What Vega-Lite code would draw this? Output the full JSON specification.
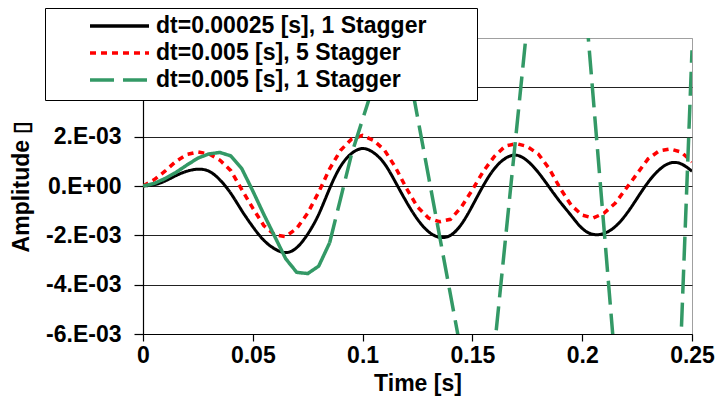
{
  "$schema": "https://vega.github.io/schema/vega-lite/v6.json",
  "width": 549,
  "height": 296,
  "autosize": {"type": "none"},
  "padding": {"left": 143, "top": 38, "right": 27, "bottom": 80},
  "background": "white",
  "config": {
    "view": {"stroke": "#a0a0a0", "strokeWidth": 1},
    "font": "Liberation Sans",
    "axis": {"labelFont": "Liberation Sans", "titleFont": "Liberation Sans", "labelFontSize": 23, "titleFontSize": 23, "labelFontWeight": "bold", "titleFontWeight": "bold", "labelColor": "black", "titleColor": "black", "domainColor": "black", "tickColor": "black", "domainWidth": 1.2, "tickWidth": 1.2}
  },
  "data": {"values": [
    {"series": "dt=0.00025 [s], 1 Stagger", "t": 0, "a": 0},
    {"series": "dt=0.00025 [s], 1 Stagger", "t": 0.005, "a": 0.00005},
    {"series": "dt=0.00025 [s], 1 Stagger", "t": 0.01, "a": 0.0002},
    {"series": "dt=0.00025 [s], 1 Stagger", "t": 0.015, "a": 0.00042},
    {"series": "dt=0.00025 [s], 1 Stagger", "t": 0.02, "a": 0.0006},
    {"series": "dt=0.00025 [s], 1 Stagger", "t": 0.025, "a": 0.00068},
    {"series": "dt=0.00025 [s], 1 Stagger", "t": 0.03, "a": 0.0006},
    {"series": "dt=0.00025 [s], 1 Stagger", "t": 0.035, "a": 0.00025},
    {"series": "dt=0.00025 [s], 1 Stagger", "t": 0.04, "a": -0.0003},
    {"series": "dt=0.00025 [s], 1 Stagger", "t": 0.045, "a": -0.001},
    {"series": "dt=0.00025 [s], 1 Stagger", "t": 0.05, "a": -0.00165},
    {"series": "dt=0.00025 [s], 1 Stagger", "t": 0.055, "a": -0.0022},
    {"series": "dt=0.00025 [s], 1 Stagger", "t": 0.06, "a": -0.00255},
    {"series": "dt=0.00025 [s], 1 Stagger", "t": 0.065, "a": -0.0027},
    {"series": "dt=0.00025 [s], 1 Stagger", "t": 0.07, "a": -0.0025},
    {"series": "dt=0.00025 [s], 1 Stagger", "t": 0.075, "a": -0.00195},
    {"series": "dt=0.00025 [s], 1 Stagger", "t": 0.08, "a": -0.00115},
    {"series": "dt=0.00025 [s], 1 Stagger", "t": 0.085, "a": -0.0001},
    {"series": "dt=0.00025 [s], 1 Stagger", "t": 0.09, "a": 0.0008},
    {"series": "dt=0.00025 [s], 1 Stagger", "t": 0.095, "a": 0.00132},
    {"series": "dt=0.00025 [s], 1 Stagger", "t": 0.1, "a": 0.00152},
    {"series": "dt=0.00025 [s], 1 Stagger", "t": 0.105, "a": 0.00135},
    {"series": "dt=0.00025 [s], 1 Stagger", "t": 0.11, "a": 0.0009},
    {"series": "dt=0.00025 [s], 1 Stagger", "t": 0.115, "a": 0.00015},
    {"series": "dt=0.00025 [s], 1 Stagger", "t": 0.12, "a": -0.00065},
    {"series": "dt=0.00025 [s], 1 Stagger", "t": 0.125, "a": -0.00135},
    {"series": "dt=0.00025 [s], 1 Stagger", "t": 0.13, "a": -0.00185},
    {"series": "dt=0.00025 [s], 1 Stagger", "t": 0.135, "a": -0.00208},
    {"series": "dt=0.00025 [s], 1 Stagger", "t": 0.14, "a": -0.002},
    {"series": "dt=0.00025 [s], 1 Stagger", "t": 0.145, "a": -0.00155},
    {"series": "dt=0.00025 [s], 1 Stagger", "t": 0.15, "a": -0.0008},
    {"series": "dt=0.00025 [s], 1 Stagger", "t": 0.155, "a": 0.00002},
    {"series": "dt=0.00025 [s], 1 Stagger", "t": 0.16, "a": 0.0007},
    {"series": "dt=0.00025 [s], 1 Stagger", "t": 0.165, "a": 0.00112},
    {"series": "dt=0.00025 [s], 1 Stagger", "t": 0.17, "a": 0.00125},
    {"series": "dt=0.00025 [s], 1 Stagger", "t": 0.175, "a": 0.00102},
    {"series": "dt=0.00025 [s], 1 Stagger", "t": 0.18, "a": 0.00055},
    {"series": "dt=0.00025 [s], 1 Stagger", "t": 0.185, "a": -0.00005},
    {"series": "dt=0.00025 [s], 1 Stagger", "t": 0.19, "a": -0.00065},
    {"series": "dt=0.00025 [s], 1 Stagger", "t": 0.195, "a": -0.0012},
    {"series": "dt=0.00025 [s], 1 Stagger", "t": 0.2, "a": -0.00172},
    {"series": "dt=0.00025 [s], 1 Stagger", "t": 0.205, "a": -0.00196},
    {"series": "dt=0.00025 [s], 1 Stagger", "t": 0.21, "a": -0.00192},
    {"series": "dt=0.00025 [s], 1 Stagger", "t": 0.215, "a": -0.00165},
    {"series": "dt=0.00025 [s], 1 Stagger", "t": 0.22, "a": -0.00115},
    {"series": "dt=0.00025 [s], 1 Stagger", "t": 0.225, "a": -0.0005},
    {"series": "dt=0.00025 [s], 1 Stagger", "t": 0.23, "a": 0.00015},
    {"series": "dt=0.00025 [s], 1 Stagger", "t": 0.235, "a": 0.00065},
    {"series": "dt=0.00025 [s], 1 Stagger", "t": 0.24, "a": 0.00093},
    {"series": "dt=0.00025 [s], 1 Stagger", "t": 0.245, "a": 0.0009},
    {"series": "dt=0.00025 [s], 1 Stagger", "t": 0.25, "a": 0.0006},

    {"series": "dt=0.005 [s], 5 Stagger", "t": 0, "a": 0},
    {"series": "dt=0.005 [s], 5 Stagger", "t": 0.005, "a": 0.00025},
    {"series": "dt=0.005 [s], 5 Stagger", "t": 0.01, "a": 0.0006},
    {"series": "dt=0.005 [s], 5 Stagger", "t": 0.015, "a": 0.001},
    {"series": "dt=0.005 [s], 5 Stagger", "t": 0.02, "a": 0.00128},
    {"series": "dt=0.005 [s], 5 Stagger", "t": 0.025, "a": 0.00138},
    {"series": "dt=0.005 [s], 5 Stagger", "t": 0.03, "a": 0.0013},
    {"series": "dt=0.005 [s], 5 Stagger", "t": 0.035, "a": 0.00105},
    {"series": "dt=0.005 [s], 5 Stagger", "t": 0.04, "a": 0.00062},
    {"series": "dt=0.005 [s], 5 Stagger", "t": 0.045, "a": -0.00015},
    {"series": "dt=0.005 [s], 5 Stagger", "t": 0.05, "a": -0.0009},
    {"series": "dt=0.005 [s], 5 Stagger", "t": 0.055, "a": -0.0016},
    {"series": "dt=0.005 [s], 5 Stagger", "t": 0.06, "a": -0.00198},
    {"series": "dt=0.005 [s], 5 Stagger", "t": 0.065, "a": -0.00205},
    {"series": "dt=0.005 [s], 5 Stagger", "t": 0.07, "a": -0.00172},
    {"series": "dt=0.005 [s], 5 Stagger", "t": 0.075, "a": -0.0011},
    {"series": "dt=0.005 [s], 5 Stagger", "t": 0.08, "a": -0.00025},
    {"series": "dt=0.005 [s], 5 Stagger", "t": 0.085, "a": 0.0007},
    {"series": "dt=0.005 [s], 5 Stagger", "t": 0.09, "a": 0.00145},
    {"series": "dt=0.005 [s], 5 Stagger", "t": 0.095, "a": 0.0019},
    {"series": "dt=0.005 [s], 5 Stagger", "t": 0.1, "a": 0.00205},
    {"series": "dt=0.005 [s], 5 Stagger", "t": 0.105, "a": 0.00185},
    {"series": "dt=0.005 [s], 5 Stagger", "t": 0.11, "a": 0.00145},
    {"series": "dt=0.005 [s], 5 Stagger", "t": 0.115, "a": 0.00075},
    {"series": "dt=0.005 [s], 5 Stagger", "t": 0.12, "a": -0.0001},
    {"series": "dt=0.005 [s], 5 Stagger", "t": 0.125, "a": -0.00085},
    {"series": "dt=0.005 [s], 5 Stagger", "t": 0.13, "a": -0.0013},
    {"series": "dt=0.005 [s], 5 Stagger", "t": 0.135, "a": -0.00145},
    {"series": "dt=0.005 [s], 5 Stagger", "t": 0.14, "a": -0.00135},
    {"series": "dt=0.005 [s], 5 Stagger", "t": 0.145, "a": -0.00085},
    {"series": "dt=0.005 [s], 5 Stagger", "t": 0.15, "a": -0.00015},
    {"series": "dt=0.005 [s], 5 Stagger", "t": 0.155, "a": 0.0006},
    {"series": "dt=0.005 [s], 5 Stagger", "t": 0.16, "a": 0.0012},
    {"series": "dt=0.005 [s], 5 Stagger", "t": 0.165, "a": 0.00162},
    {"series": "dt=0.005 [s], 5 Stagger", "t": 0.17, "a": 0.00172},
    {"series": "dt=0.005 [s], 5 Stagger", "t": 0.175, "a": 0.0016},
    {"series": "dt=0.005 [s], 5 Stagger", "t": 0.18, "a": 0.0013},
    {"series": "dt=0.005 [s], 5 Stagger", "t": 0.185, "a": 0.0007},
    {"series": "dt=0.005 [s], 5 Stagger", "t": 0.19, "a": -0.0001},
    {"series": "dt=0.005 [s], 5 Stagger", "t": 0.195, "a": -0.00078},
    {"series": "dt=0.005 [s], 5 Stagger", "t": 0.2, "a": -0.00118},
    {"series": "dt=0.005 [s], 5 Stagger", "t": 0.205, "a": -0.0013},
    {"series": "dt=0.005 [s], 5 Stagger", "t": 0.21, "a": -0.0011},
    {"series": "dt=0.005 [s], 5 Stagger", "t": 0.215, "a": -0.0007},
    {"series": "dt=0.005 [s], 5 Stagger", "t": 0.22, "a": -0.0001},
    {"series": "dt=0.005 [s], 5 Stagger", "t": 0.225, "a": 0.0005},
    {"series": "dt=0.005 [s], 5 Stagger", "t": 0.23, "a": 0.0011},
    {"series": "dt=0.005 [s], 5 Stagger", "t": 0.235, "a": 0.00142},
    {"series": "dt=0.005 [s], 5 Stagger", "t": 0.24, "a": 0.0015},
    {"series": "dt=0.005 [s], 5 Stagger", "t": 0.245, "a": 0.00138},
    {"series": "dt=0.005 [s], 5 Stagger", "t": 0.25, "a": 0.00098},

    {"series": "dt=0.005 [s], 1 Stagger", "t": 0, "a": 0},
    {"series": "dt=0.005 [s], 1 Stagger", "t": 0.005, "a": 0.0001},
    {"series": "dt=0.005 [s], 1 Stagger", "t": 0.01, "a": 0.0003},
    {"series": "dt=0.005 [s], 1 Stagger", "t": 0.015, "a": 0.00055},
    {"series": "dt=0.005 [s], 1 Stagger", "t": 0.02, "a": 0.00085},
    {"series": "dt=0.005 [s], 1 Stagger", "t": 0.025, "a": 0.00113},
    {"series": "dt=0.005 [s], 1 Stagger", "t": 0.03, "a": 0.0013},
    {"series": "dt=0.005 [s], 1 Stagger", "t": 0.035, "a": 0.00136},
    {"series": "dt=0.005 [s], 1 Stagger", "t": 0.04, "a": 0.00122},
    {"series": "dt=0.005 [s], 1 Stagger", "t": 0.045, "a": 0.0007},
    {"series": "dt=0.005 [s], 1 Stagger", "t": 0.05, "a": -0.0002},
    {"series": "dt=0.005 [s], 1 Stagger", "t": 0.055, "a": -0.00115},
    {"series": "dt=0.005 [s], 1 Stagger", "t": 0.06, "a": -0.00205},
    {"series": "dt=0.005 [s], 1 Stagger", "t": 0.065, "a": -0.00295},
    {"series": "dt=0.005 [s], 1 Stagger", "t": 0.07, "a": -0.0035},
    {"series": "dt=0.005 [s], 1 Stagger", "t": 0.075, "a": -0.00355},
    {"series": "dt=0.005 [s], 1 Stagger", "t": 0.08, "a": -0.00325},
    {"series": "dt=0.005 [s], 1 Stagger", "t": 0.085, "a": -0.0023},
    {"series": "dt=0.005 [s], 1 Stagger", "t": 0.09, "a": -0.0005},
    {"series": "dt=0.005 [s], 1 Stagger", "t": 0.095, "a": 0.0013},
    {"series": "dt=0.005 [s], 1 Stagger", "t": 0.1, "a": 0.0027},
    {"series": "dt=0.005 [s], 1 Stagger", "t": 0.105, "a": 0.0041},
    {"series": "dt=0.005 [s], 1 Stagger", "t": 0.11, "a": 0.0056},
    {"series": "dt=0.005 [s], 1 Stagger", "t": 0.115, "a": 0.0072},
    {"series": "dt=0.005 [s], 1 Stagger", "t": 0.12, "a": 0.0052},
    {"series": "dt=0.005 [s], 1 Stagger", "t": 0.125, "a": 0.0028},
    {"series": "dt=0.005 [s], 1 Stagger", "t": 0.13, "a": 0.0004},
    {"series": "dt=0.005 [s], 1 Stagger", "t": 0.135, "a": -0.002},
    {"series": "dt=0.005 [s], 1 Stagger", "t": 0.14, "a": -0.0044},
    {"series": "dt=0.005 [s], 1 Stagger", "t": 0.145, "a": -0.0068},
    {"series": "dt=0.005 [s], 1 Stagger", "t": 0.15, "a": -0.0092},
    {"series": "dt=0.005 [s], 1 Stagger", "t": 0.155, "a": -0.0116},
    {"series": "dt=0.005 [s], 1 Stagger", "t": 0.16, "a": -0.0066},
    {"series": "dt=0.005 [s], 1 Stagger", "t": 0.165, "a": -0.0022},
    {"series": "dt=0.005 [s], 1 Stagger", "t": 0.17, "a": 0.0022},
    {"series": "dt=0.005 [s], 1 Stagger", "t": 0.175, "a": 0.0066},
    {"series": "dt=0.005 [s], 1 Stagger", "t": 0.18, "a": 0.011},
    {"series": "dt=0.005 [s], 1 Stagger", "t": 0.185, "a": 0.0154},
    {"series": "dt=0.005 [s], 1 Stagger", "t": 0.19, "a": 0.0198},
    {"series": "dt=0.005 [s], 1 Stagger", "t": 0.195, "a": 0.0144},
    {"series": "dt=0.005 [s], 1 Stagger", "t": 0.2, "a": 0.009},
    {"series": "dt=0.005 [s], 1 Stagger", "t": 0.205, "a": 0.0036},
    {"series": "dt=0.005 [s], 1 Stagger", "t": 0.21, "a": -0.0018},
    {"series": "dt=0.005 [s], 1 Stagger", "t": 0.215, "a": -0.0072},
    {"series": "dt=0.005 [s], 1 Stagger", "t": 0.22, "a": -0.0126},
    {"series": "dt=0.005 [s], 1 Stagger", "t": 0.225, "a": -0.018},
    {"series": "dt=0.005 [s], 1 Stagger", "t": 0.23, "a": -0.0234},
    {"series": "dt=0.005 [s], 1 Stagger", "t": 0.235, "a": -0.0288},
    {"series": "dt=0.005 [s], 1 Stagger", "t": 0.24, "a": -0.0176},
    {"series": "dt=0.005 [s], 1 Stagger", "t": 0.245, "a": -0.0062},
    {"series": "dt=0.005 [s], 1 Stagger", "t": 0.25, "a": 0.0055}
  ]},
  "encoding": {
    "x": {
      "field": "t", "type": "quantitative",
      "scale": {"domain": [0, 0.25], "nice": false, "zero": false},
      "axis": {"values": [0, 0.05, 0.1, 0.15, 0.2, 0.25], "format": "~g", "grid": false, "tickSize": 7, "labelPadding": 3, "labelFlush": false, "title": "Time [s]", "titlePadding": 5}
    },
    "y": {
      "field": "a", "type": "quantitative",
      "scale": {"domain": [-0.006, 0.006], "nice": false, "zero": false},
      "axis": {
        "values": [-0.006, -0.004, -0.002, 0, 0.002, 0.004, 0.006],
        "grid": true,
        "gridColor": {"condition": {"test": "datum.value > 0.005", "value": "#a0a0a0"}, "value": "#222222"},
        "gridWidth": 1.2,
        "tickSize": 9, "labelPadding": 13,
        "labelExpr": "datum.value == 0 ? '0.E+00' : (datum.value < 0 ? '-' : '') + abs(round(datum.value * 1000)) + '.E-03'",
        "title": "Amplitude ▯", "titlePadding": 12
      }
    },
    "color": {
      "field": "series", "type": "nominal",
      "scale": {"domain": ["dt=0.00025 [s], 1 Stagger", "dt=0.005 [s], 5 Stagger", "dt=0.005 [s], 1 Stagger"], "range": ["#000000", "#ff0000", "#339966"]},
      "legend": {
        "title": "\u00a0", "titleOrient": "right", "titlePadding": 43, "titleFontSize": 10,
        "orient": "none", "legendX": -98, "legendY": -30,
        "fillColor": "white", "strokeColor": "black", "padding": 8,
        "symbolType": "stroke", "symbolSize": 3481, "symbolStrokeWidth": 3.5, "symbolOffset": 35,
        "labelFont": "Liberation Sans", "labelFontSize": 23, "labelFontWeight": "bold", "labelColor": "black", "labelLimit": 700, "labelOffset": 5,
        "clipHeight": 20, "rowPadding": 4
      }
    },
    "strokeDash": {
      "field": "series", "type": "nominal",
      "scale": {"domain": ["dt=0.00025 [s], 1 Stagger", "dt=0.005 [s], 5 Stagger", "dt=0.005 [s], 1 Stagger"], "range": [[1, 0], [6, 5], [24, 9]]}
    }
  },
  "layer": [
    {"transform": [{"filter": "datum.series === 'dt=0.00025 [s], 1 Stagger'"}], "mark": {"type": "line", "clip": true, "interpolate": "natural", "strokeWidth": 3}},
    {"transform": [{"filter": "datum.series === 'dt=0.005 [s], 5 Stagger'"}], "mark": {"type": "line", "clip": true, "strokeWidth": 3.5}},
    {"transform": [{"filter": "datum.series === 'dt=0.005 [s], 1 Stagger' && datum.t <= 0.0851"}], "mark": {"type": "line", "clip": true, "strokeWidth": 3.5}, "encoding": {"strokeDash": {"value": [1, 0]}}},
    {"transform": [{"filter": "datum.series === 'dt=0.005 [s], 1 Stagger' && datum.t >= 0.0849"}], "mark": {"type": "line", "clip": true, "strokeWidth": 3.5}}
  ]
}
